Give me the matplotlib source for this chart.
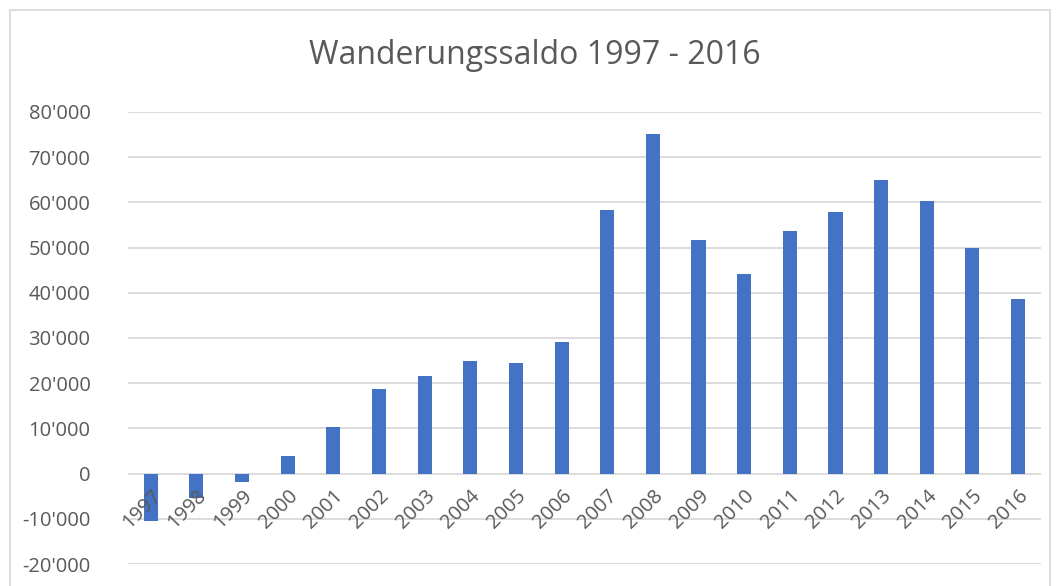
import matplotlib
matplotlib.use('Agg')
import matplotlib.pyplot as plt
from matplotlib.patches import Rectangle
from matplotlib.ticker import FuncFormatter

# Wanderungssaldo (net migration) per year
years = ['1997', '1998', '1999', '2000', '2001', '2002', '2003', '2004', '2005', '2006',
         '2007', '2008', '2009', '2010', '2011', '2012', '2013', '2014', '2015', '2016']
saldo = [-10400, -5500, -1900, 3800, 10200, 18700, 21500, 25000, 24400, 29000,
         58200, 75200, 51700, 44100, 53700, 57900, 65000, 60400, 50000, 38700]
yticks = [-20000, -10000, 0, 10000, 20000, 30000, 40000, 50000, 60000, 70000, 80000]

plt.rcParams['font.family'] = ['Open Sans', 'DejaVu Sans']
textcol = '#595959'
gridcol = '#D9D9D9'

fig = plt.figure(figsize=(10.61, 5.86), dpi=100)
ax = fig.add_axes([0.1206, 0.0375, 0.8604, 0.7715])

# gridlines by hand so they stay behind the bars while the labels stay on top
for t in yticks:
    ax.axhline(t, color=gridcol, linewidth=1.3, zorder=1)

x = list(range(len(years)))
ax.bar(x, saldo, width=0.31, color='#4472C4', zorder=2)

ax.set_xlim(-0.5, len(years) - 0.5)
ax.set_ylim(-20000, 80000)
ax.set_yticks(yticks)
ax.yaxis.set_major_formatter(FuncFormatter(lambda v, p: '{:,.0f}'.format(v).replace(',', "'")))
ax.set_axisbelow(False)

# category labels sit on the zero line like in Excel
ax.spines['bottom'].set_position(('data', 0))
ax.spines['bottom'].set_visible(False)
for s in ['top', 'right', 'left']:
    ax.spines[s].set_visible(False)

ax.set_xticks(x)
ax.set_xticklabels(years, rotation=45, ha='right', rotation_mode='anchor')
ax.tick_params(axis='x', length=0, pad=9, labelsize=14.5, labelcolor=textcol)
ax.tick_params(axis='y', length=0, pad=27, labelsize=14.5, labelcolor=textcol)

fig.text(0.504, 0.906, 'Wanderungssaldo 1997 - 2016', ha='center', va='center',
         fontsize=23, color=textcol)

# light outer chart border
fig.patches.append(Rectangle((10 / 1061, -0.05), 1040 / 1061, 1.05 - 10 / 586,
                             transform=fig.transFigure, fill=False,
                             edgecolor=gridcol, linewidth=1.3))

fig.savefig('out.png', dpi=100)
